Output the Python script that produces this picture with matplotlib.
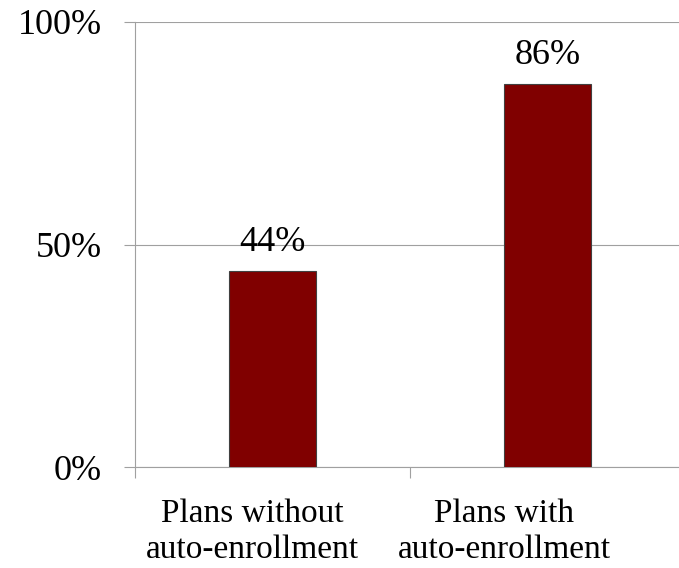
import matplotlib
matplotlib.use("Agg")
import matplotlib.pyplot as plt
from matplotlib.transforms import ScaledTranslation

categories = ["Plans without\nauto-enrollment", "Plans with\nauto-enrollment"]
values = [44, 86]
value_labels = ["44%", "86%"]
y_ticks = [0, 50, 100]
y_tick_labels = ["0%", "50%", "100%"]

plt.rcParams["font.family"] = ["Liberation Serif", "DejaVu Serif"]
FS = 26

fig = plt.figure(figsize=(6.79, 5.68), dpi=100)
W, H = 679, 568
ax = fig.add_axes([135 / W, (H - 467) / H, 550 / W, 445 / H])

line_col = "#a0a0a0"
x = list(range(len(categories)))
ax.bar(x, values, width=0.313, color="#800000", edgecolor="#404040",
       linewidth=0.8, zorder=3)

for xi, v, lab in zip(x, values, value_labels):
    ax.text(xi, v + 4.5, lab, ha="center", va="baseline", fontsize=FS, zorder=4)

ax.set_xlim(-0.5, 1.5)
ax.set_ylim(0, 100)
ax.set_yticks(y_ticks)
ax.set_yticklabels(y_tick_labels, fontsize=FS)
ax.set_xticks([-0.5, 0.5, 1.5])
ax.set_xticklabels([])
ax.set_xticks(x, minor=True)
ax.set_xticklabels(categories, minor=True, fontsize=24)
ax.tick_params(axis="x", which="minor", length=0, pad=23)
ax.tick_params(axis="x", which="major", length=8, color=line_col, width=0.8)
ax.tick_params(axis="y", length=8, color=line_col, width=0.8, pad=16)

# category labels sit a bit left of the bar centres (as in the original)
shifts_px = [-20, -43]
for lbl, dx in zip(ax.get_xticklabels(minor=True), shifts_px):
    lbl.set_transform(lbl.get_transform() + ScaledTranslation(dx / 100, 0, fig.dpi_scale_trans))

ax.grid(axis="y", color=line_col, linewidth=0.8, zorder=0)
for side in ["top", "right"]:
    ax.spines[side].set_visible(False)
for side in ["left", "bottom"]:
    ax.spines[side].set_color(line_col)
    ax.spines[side].set_linewidth(0.8)

fig.savefig("out.png", dpi=100)
